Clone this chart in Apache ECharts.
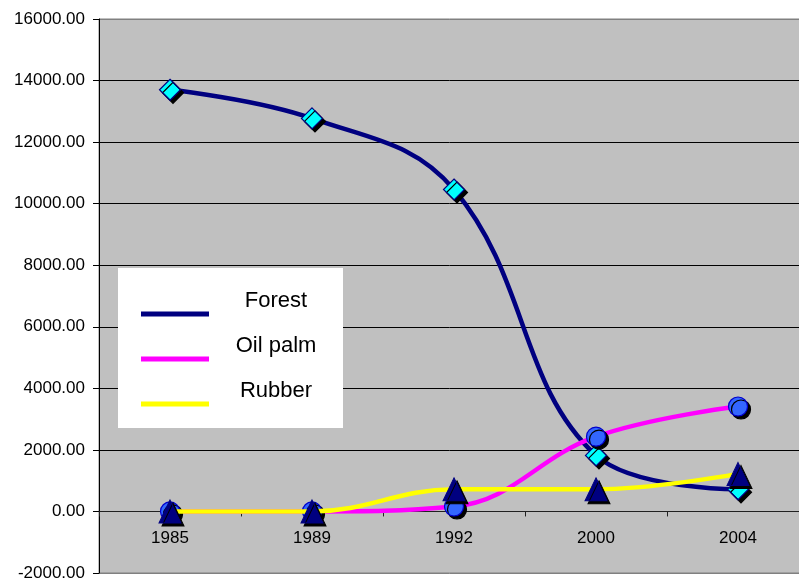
<!DOCTYPE html>
<html>
<head>
<meta charset="utf-8">
<script src="https://cdn.jsdelivr.net/npm/echarts@6/dist/echarts.min.js"></script>
<style>
  html, body { margin: 0; padding: 0; background: #ffffff; }
  #chart { width: 799px; height: 579px; }
</style>
</head>
<body>
<div id="chart"></div>
<script>
// Land use area by year
const years = ['1985', '1989', '1992', '2000', '2004'];
const forest = [13700, 12770, 10460, 1820, 720];
const oilPalm = [0, 0, 160, 2430, 3410];
const rubber = [0, 0, 720, 720, 1220];

const yMin = -2000;
const yMax = 16000;
const yStep = 2000;

const FONT = '"Liberation Sans", Arial, sans-serif';
const markerShadow = { shadowColor: '#000000', shadowBlur: 0, shadowOffsetX: 3, shadowOffsetY: 3 };
const noShadow = { shadowColor: 'rgba(0,0,0,0)', shadowBlur: 0, shadowOffsetX: 0, shadowOffsetY: 0, borderWidth: 0 };

const chart = echarts.init(document.getElementById('chart'), null, { renderer: 'canvas' });

chart.setOption({
  animation: false,
  backgroundColor: '#ffffff',
  grid: {
    left: 99, top: 19, width: 710, height: 554,
    outerBoundsMode: 'none',
    containLabel: false,
    show: true, backgroundColor: '#c0c0c0', borderColor: '#808080', borderWidth: 1
  },
  legend: {
    orient: 'vertical',
    left: 118, top: 268,
    backgroundColor: '#ffffff',
    borderWidth: 0,
    padding: [22, 5, 0, 23],
    itemGap: -3,
    itemWidth: 68,
    itemHeight: 5,
    icon: 'rect',
    formatter: name => '{t|' + name + '}',
    textStyle: {
      fontFamily: FONT, fontSize: 22, color: '#000000',
      rich: {
        t: {
          fontFamily: FONT, fontSize: 22, color: '#000000',
          width: 124, align: 'center', lineHeight: 18,
          padding: [0, 0, 26, 0]
        }
      }
    },
    data: [
      { name: 'Forest', itemStyle: Object.assign({ color: '#000080' }, noShadow) },
      { name: 'Oil palm', itemStyle: Object.assign({ color: '#ff00ff' }, noShadow) },
      { name: 'Rubber', itemStyle: Object.assign({ color: '#ffff00' }, noShadow) }
    ]
  },
  xAxis: {
    type: 'category',
    data: years,
    boundaryGap: true,
    axisLine: { onZero: true, lineStyle: { color: '#202020', width: 1 } },
    axisTick: { show: true, length: 5, inside: false, lineStyle: { color: '#202020' } },
    axisLabel: { fontFamily: FONT, fontSize: 17, color: '#000000', margin: -43 },
    splitLine: { show: false }
  },
  yAxis: {
    type: 'value',
    min: yMin, max: yMax, interval: yStep,
    axisLine: { show: true, lineStyle: { color: '#000000', width: 1 } },
    axisTick: { show: true, length: 6, lineStyle: { color: '#000000' } },
    axisLabel: {
      fontFamily: FONT, fontSize: 17, color: '#000000', margin: 14,
      formatter: v => v.toFixed(2)
    },
    splitLine: {
      show: true,
      lineStyle: {
        color: ['#808080', '#000000', '#000000', '#000000', '#000000',
                '#000000', '#000000', '#000000', '#000000', '#808080'],
        width: 1
      }
    }
  },
  series: [
    {
      name: 'Forest', type: 'line', data: forest, smooth: 0.4,
      symbol: 'diamond', symbolSize: 21,
      lineStyle: { color: '#000080', width: 4.5 },
      itemStyle: Object.assign({ color: '#00ffff', borderColor: '#000080', borderWidth: 1.2 }, markerShadow),
      z: 3
    },
    {
      name: 'Oil palm', type: 'line', data: oilPalm, smooth: 0.4,
      symbol: 'circle', symbolSize: 19,
      lineStyle: { color: '#ff00ff', width: 4.5 },
      itemStyle: Object.assign({ color: '#3366ff', borderColor: '#0000cc', borderWidth: 1.2 }, markerShadow),
      z: 4
    },
    {
      name: 'Rubber', type: 'line', data: rubber, smooth: 0.4,
      symbol: 'triangle', symbolSize: [22, 23],
      lineStyle: { color: '#ffff00', width: 4.5 },
      itemStyle: Object.assign({ color: '#000080', borderColor: '#000080', borderWidth: 1 }, markerShadow),
      z: 5
    }
  ]
});
</script>
</body>
</html>
